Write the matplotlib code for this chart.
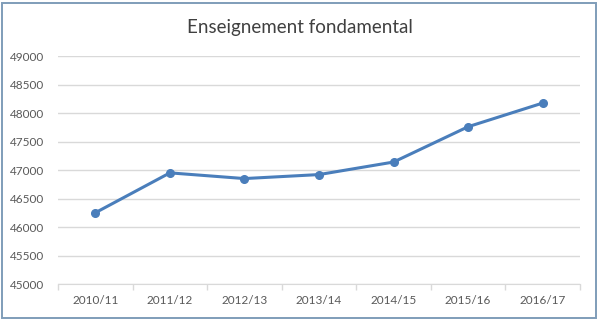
import matplotlib.pyplot as plt
from matplotlib.patches import Rectangle

years = ["2010/11", "2011/12", "2012/13", "2013/14", "2014/15", "2015/16", "2016/17"]
students = [46250, 46950, 46850, 46920, 47140, 47760, 48175]
yticks = [45000, 45500, 46000, 46500, 47000, 47500, 48000, 48500, 49000]

plt.rcParams['font.family'] = ['Lato', 'DejaVu Sans']

fig = plt.figure(figsize=(6, 3.22), dpi=100)
ax = fig.add_axes([0.0967, 0.118, 0.87, 0.708])

x = list(range(len(years)))
ax.plot(x, students, color='#4a7ebb', linewidth=2.2, marker='o', markersize=5.5, zorder=3)

ax.set_xlim(-0.5, len(years) - 0.5)
ax.set_ylim(45000, 49000)
ax.set_yticks(yticks)
ax.set_yticklabels([str(v) for v in yticks], fontsize=8.5, color='#595959')
ax.set_xticks(x)
ax.set_xticklabels(years, fontsize=8.5, color='#595959')
ax.tick_params(axis='y', length=0, pad=10)
ax.tick_params(axis='x', length=0, pad=8)

# boundary tick marks between categories
ax.set_xticks([i - 0.5 for i in range(len(years) + 1)], minor=True)
ax.tick_params(axis='x', which='minor', length=4, color='#d9d9d9', width=1)

ax.grid(axis='y', color='#d9d9d9', linewidth=1)
ax.set_axisbelow(True)
for side in ['top', 'right', 'left']:
    ax.spines[side].set_visible(False)
ax.spines['bottom'].set_color('#d9d9d9')

fig.text(0.5, 0.915, "Enseignement fondamental", ha='center', va='center',
         fontsize=13.5, color='#404040')

fig.patches.append(Rectangle((0.004, 0.012), 0.99, 0.98, transform=fig.transFigure,
                             fill=False, edgecolor='#7f9db9', linewidth=1.4))

fig.savefig("out.png", dpi=100)
